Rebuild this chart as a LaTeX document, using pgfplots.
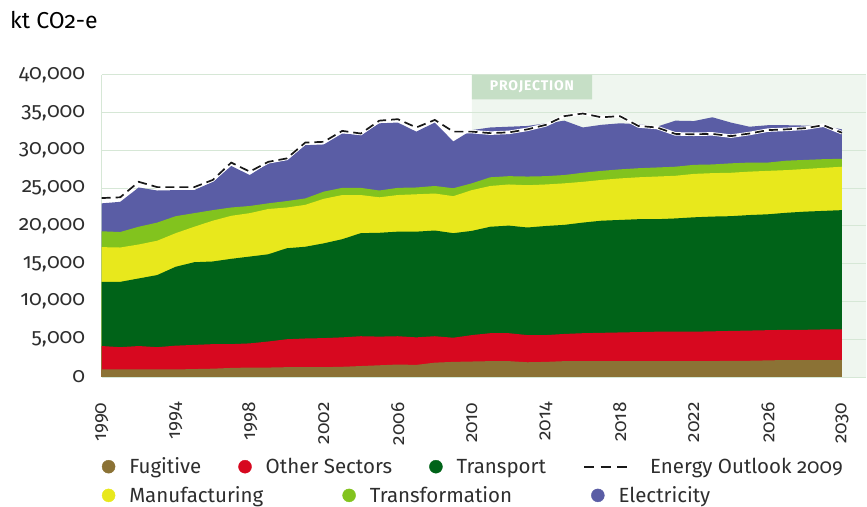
\documentclass[border=0pt]{standalone}
\usepackage{fontspec}
\setmainfont{Fira Sans}[Numbers=OldStyle]
\usepackage{pgfplots}
\usepackage{pgfplotstable}
\pgfplotsset{compat=1.18}
\definecolor{fugc}{HTML}{8B7235}
\definecolor{othc}{HTML}{D7081F}
\definecolor{trac}{HTML}{006318}
\definecolor{manc}{HTML}{E8E81C}
\definecolor{tfmc}{HTML}{82C31E}
\definecolor{elec}{HTML}{5A5DA5}
\definecolor{shadec}{HTML}{EFF6EF}
\definecolor{gridc}{HTML}{D6E7D6}
\definecolor{projc}{HTML}{C6DFC6}
\definecolor{txtc}{HTML}{2E2E2E}

% cumulative tops of the stacked areas (kt CO2-e)
\pgfplotstableread{
year fug oth tra man tfm ele eo
1990 1000 4100 12600 17200 19300 23000 23700
1991 1000 3950 12600 17150 19200 23200 23800
1992 1000 4100 13050 17550 19900 25100 25850
1993 1000 3950 13500 18050 20450 24700 25150
1994 1000 4150 14600 19050 21300 24750 25150
1995 1050 4250 15200 19900 21700 24750 25150
1996 1100 4350 15300 20700 22100 25850 26100
1997 1200 4350 15650 21350 22450 27950 28400
1998 1250 4450 15950 21700 22650 26750 27200
1999 1250 4700 16250 22250 23000 28300 28500
2000 1300 5000 17050 22450 23300 28750 28950
2001 1300 5100 17250 22800 23650 30700 31050
2002 1300 5150 17700 23600 24550 30800 31150
2003 1350 5250 18250 24100 25050 32250 32600
2004 1450 5400 19050 24100 25050 32050 32250
2005 1550 5350 19100 23800 24700 33600 33950
2006 1650 5400 19250 24100 25050 33700 34150
2007 1600 5250 19250 24200 25100 32500 33050
2008 1900 5400 19400 24300 25300 33700 34050
2009 2000 5200 19050 23950 25000 31200 32500
2010 2050 5550 19350 24750 25650 32700 32500
2011 2100 5800 19900 25300 26450 33050 32300
2012 2100 5800 20050 25500 26600 33150 32400
2013 1950 5550 19800 25400 26550 33250 32800
2014 2000 5550 20000 25500 26600 33600 33400
2015 2100 5700 20150 25650 26750 33950 34550
2016 2100 5800 20450 25850 27050 33050 34900
2017 2100 5850 20700 26100 27300 33400 34400
2018 2100 5900 20800 26300 27500 33600 34550
2019 2100 5950 20900 26450 27650 33500 33250
2020 2100 6000 20900 26550 27750 33150 33050
2021 2100 6000 21000 26650 27850 33950 32200
2022 2100 6000 21150 26900 28100 33900 32150
2023 2100 6050 21250 27000 28150 34400 32200
2024 2150 6100 21300 27050 28300 33700 31900
2025 2150 6150 21450 27200 28400 33150 32250
2026 2200 6200 21550 27300 28400 33350 32700
2027 2250 6250 21750 27400 28650 33350 32800
2028 2250 6250 21900 27550 28750 33300 32950
2029 2250 6300 22000 27700 28850 33250 33350
2030 2250 6300 22100 27850 28900 32800 32350
}\data

\newcommand{\legdot}[1]{\addlegendimage{legend image code/.code={\fill[#1] (6.5bp,0) circle (6.5bp); \path (0,0) (27bp,0);}}}
\pgfplotsset{mylegend/.style={legend cell align=left,
  legend style={draw=none, fill=none, inner sep=0pt,
    font=\fontsize{20.5bp}{24bp}\selectfont, text=txtc,
    nodes={inner xsep=0pt, inner ysep=1bp},
    /tikz/every even column/.append style={column sep=#1}}}}

\begin{document}
\begin{tikzpicture}
\begin{axis}[name=main, set layers, scale only axis,
  width=764.3bp, height=302bp,
  xmin=1990, xmax=2031.3, ymin=0, ymax=40000,
  xtick={1990,1994,...,2030}, ytick={0,5000,...,40000},
  scaled y ticks=false, scaled x ticks=false,
  major tick length=0pt,
  axis x line*=bottom, axis y line*=left,
  axis line style={draw=gridc, line width=1bp},
  ymajorgrids, grid style={draw=gridc, line width=1bp},
  /pgf/number format/assume math mode=true,
  tick label style={font=\fontsize{21bp}{25bp}\selectfont, text=txtc},
  y tick label style={/pgf/number format/1000 sep={,}, xshift=-13bp},
  x tick label style={/pgf/number format/1000 sep={}, yshift=-22bp, rotate=90, anchor=east, font=\fontsize{19bp}{22bp}\selectfont},
  title={kt CO2-e},
  title style={at={(-0.12,1.163)}, anchor=west, inner sep=0pt, font=\fontsize{23bp}{27bp}\selectfont, text=black},
  mylegend=37bp, legend columns=4,
  legend style={at={(0,-0.297)}, anchor=west},
]
% projection background
\addplot[fill=shadec, draw=none, on layer=axis background, forget plot]
  coordinates {(2010,0) (2010,40000) (2031.3,40000) (2031.3,0)} \closedcycle;
\addplot[fill=projc, draw=none, forget plot]
  coordinates {(2010,36780) (2010,40000) (2016.5,40000) (2016.5,36780) (2010,36780)};
\node[text=white, font=\fontsize{14bp}{16bp}\selectfont\bfseries\addfontfeatures{LetterSpace=6}] at (axis cs:2013.25,38400) {PROJECTION};
% stacked areas (cumulative tops)
\addplot[fill=elec, draw=none, forget plot] table[x=year, y=ele] {\data} \closedcycle;
\addplot[fill=tfmc, draw=none, forget plot] table[x=year, y=tfm] {\data} \closedcycle;
\addplot[fill=manc, draw=none, forget plot] table[x=year, y=man] {\data} \closedcycle;
\addplot[fill=trac, draw=none, forget plot] table[x=year, y=tra] {\data} \closedcycle;
\addplot[fill=othc, draw=none, forget plot] table[x=year, y=oth] {\data} \closedcycle;
\addplot[fill=fugc, draw=none, forget plot] table[x=year, y=fug] {\data} \closedcycle;
% Energy Outlook 2009
\addplot[white, line width=3.5bp, forget plot] table[x=year, y=eo] {\data};
\addplot[black!90, line width=1.7bp, dash pattern=on 9bp off 5bp, forget plot] table[x=year, y=eo] {\data};
\legdot{fugc}\addlegendentry{Fugitive}
\legdot{othc}\addlegendentry{Other Sectors}
\legdot{trac}\addlegendentry{Transport}
\addlegendimage{legend image code/.code={\draw[black!90, line width=2bp, dash pattern=on 10bp off 6.5bp] (0,0) -- (46bp,0); \path (0,0) (66bp,0);}}
\addlegendentry{Energy Outlook 2009}
\end{axis}
\begin{axis}[at={(main.south west)}, anchor=south west, scale only axis,
  width=764.3bp, height=302bp, hide axis,
  xmin=0, xmax=1, ymin=0, ymax=1,
  mylegend=79bp, legend columns=3,
  legend style={at={(0,-0.392)}, anchor=west},
]
\legdot{manc}\addlegendentry{Manufacturing}
\legdot{tfmc}\addlegendentry{Transformation}
\legdot{elec}\addlegendentry{Electricity}
\end{axis}
\pgfresetboundingbox
\path[use as bounding box] ([shift={(-101.7bp,-130bp)}]main.south west) rectangle ++(867bp,507bp);
\end{tikzpicture}
\end{document}
